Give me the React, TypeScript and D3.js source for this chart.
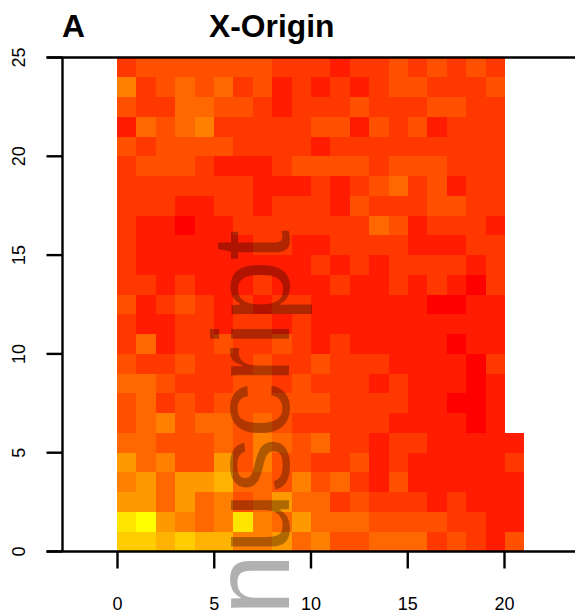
import React from 'react';
import * as d3 from 'd3';

const xTicks = [0, 5, 10, 15, 20];
const yTicks = [0, 5, 10, 15, 20, 25];

// heat.colors style ramp, indexed by the cell level below
const heatLevels = ['#ff0000', '#ff1c00', '#ff3800', '#ff5000', '#ff6800', '#ff8000', '#ff9900', '#ffb300', '#ffcc00', '#ffe500', '#ffff00'];

// rows from y=0 upwards, one level per x bin
const row00 = [8, 8, 7, 8, 7, 7, 5, 5, 6, 4, 5, 3, 3, 4, 4, 4, 2, 3, 2, 1, 3];
const row01 = [9, 10, 6, 5, 4, 5, 9, 5, 4, 6, 4, 4, 4, 3, 3, 3, 3, 2, 2, 1, 1];
const row02 = [6, 6, 4, 6, 4, 5, 3, 4, 6, 4, 4, 2, 3, 2, 2, 2, 1, 2, 1, 1, 1];
const row03 = [5, 6, 4, 6, 6, 7, 4, 4, 3, 5, 3, 4, 2, 1, 3, 1, 1, 1, 1, 1, 1];
const row04 = [6, 4, 5, 3, 3, 6, 3, 5, 3, 3, 2, 2, 3, 1, 2, 1, 1, 1, 1, 1, 2];
const row05 = [4, 4, 3, 3, 3, 4, 3, 5, 4, 3, 4, 2, 2, 1, 2, 2, 1, 1, 1, 1, 1];
const row06 = [3, 4, 5, 3, 4, 4, 3, 4, 3, 2, 2, 2, 2, 2, 1, 1, 1, 1, 0, 1];
const row07 = [3, 4, 2, 3, 2, 3, 3, 3, 3, 3, 3, 2, 2, 2, 2, 1, 1, 0, 0, 1];
const row08 = [4, 4, 3, 2, 2, 2, 3, 3, 2, 3, 2, 2, 2, 1, 2, 1, 1, 1, 0, 1];
const row09 = [3, 2, 2, 3, 2, 2, 2, 3, 2, 2, 3, 2, 2, 2, 1, 1, 1, 1, 0, 2];
const row10 = [2, 4, 1, 2, 2, 3, 2, 2, 3, 2, 1, 2, 1, 1, 1, 1, 1, 0, 1, 1];
const row11 = [2, 1, 1, 2, 2, 1, 2, 2, 1, 2, 1, 1, 1, 1, 1, 1, 1, 1, 1, 1];
const row12 = [3, 1, 2, 3, 2, 1, 2, 1, 2, 2, 1, 1, 1, 1, 1, 1, 0, 0, 1, 1];
const row13 = [2, 2, 1, 2, 1, 1, 1, 2, 1, 1, 1, 2, 1, 1, 2, 1, 2, 1, 0, 2];
const row14 = [2, 1, 1, 1, 1, 1, 1, 1, 1, 1, 2, 1, 2, 1, 2, 2, 2, 2, 1, 2];
const row15 = [2, 1, 1, 1, 1, 1, 1, 2, 2, 1, 1, 2, 2, 2, 2, 1, 1, 1, 2, 2];
const row16 = [2, 1, 1, 0, 1, 1, 2, 2, 2, 2, 2, 2, 2, 4, 3, 1, 2, 2, 2, 1];
const row17 = [2, 2, 2, 1, 1, 2, 2, 1, 2, 2, 2, 1, 3, 2, 2, 2, 3, 3, 2, 2];
const row18 = [2, 2, 2, 2, 2, 2, 2, 1, 1, 1, 2, 1, 2, 3, 4, 2, 3, 1, 2, 2];
const row19 = [2, 3, 3, 3, 2, 1, 1, 1, 2, 3, 3, 3, 3, 2, 3, 3, 3, 2, 2, 2];
const row20 = [3, 2, 3, 3, 3, 3, 2, 2, 2, 2, 1, 2, 2, 2, 2, 2, 2, 2, 2, 2];
const row21 = [1, 4, 3, 4, 5, 2, 2, 2, 2, 2, 3, 3, 1, 3, 2, 3, 1, 2, 2, 2];
const row22 = [3, 2, 2, 4, 4, 3, 3, 2, 1, 2, 2, 2, 3, 2, 2, 2, 3, 3, 2, 2];
const row23 = [5, 2, 3, 4, 3, 4, 2, 3, 1, 2, 1, 2, 1, 2, 3, 3, 2, 2, 2, 3];
const row24 = [2, 3, 3, 3, 3, 3, 3, 3, 2, 2, 2, 1, 2, 2, 3, 2, 3, 2, 3, 2];

const rows = [row00, row01, row02, row03, row04, row05, row06, row07, row08, row09, row10, row11, row12,
  row13, row14, row15, row16, row17, row18, row19, row20, row21, row22, row23, row24];

const width = 575;
const height = 614;
const font = '"Liberation Sans", Arial, sans-serif';

const x = d3.scaleLinear().domain([0, 20]).range([117.5, 504.5]);
const cellX = d3.scaleLinear().domain([0, 20]).range([117, 505]);
const y = d3.scaleLinear().domain([0, 25]).range([551.5, 57.5]);
const color = d3.scaleQuantize<string>().domain([0, heatLevels.length]).range(heatLevels);

const axisLeft = 62.5;

export default function App() {
  return (
    <svg width={width} height={height} style={{ position: 'absolute', left: 0, top: 0, background: '#fff' }} fontFamily={font}>
      <text x={62} y={36.5} fontSize={31.8} fontWeight="bold">A</text>
      <text x={209} y={36.5} fontSize={31.8} fontWeight="bold">X-Origin</text>

      <g shapeRendering="crispEdges">
        {rows.map((row, r) =>
          row.map((level, c) => (
            <rect
              key={`${r}-${c}`}
              x={cellX(c)}
              y={y(r + 1)}
              width={cellX(c + 1) - cellX(c)}
              height={y(r) - y(r + 1)}
              fill={color(level + 0.5)}
            />
          ))
        )}
      </g>

      {/* box: only left, top and bottom are inside the frame */}
      <g stroke="#000" strokeWidth={2.4} fill="none">
        <line x1={axisLeft} x2={axisLeft} y1={y(25)} y2={y(0)} />
        <line x1={axisLeft - 16} x2={width} y1={y(0)} y2={y(0)} />
        <line x1={axisLeft - 16} x2={width} y1={y(25)} y2={y(25)} />
        {xTicks.map(t => (
          <line key={t} x1={x(t)} x2={x(t)} y1={y(0)} y2={y(0) + 17} />
        ))}
        {yTicks.map(t => (
          <line key={t} x1={axisLeft - 16} x2={axisLeft} y1={y(t)} y2={y(t)} />
        ))}
      </g>

      <g fontSize={18} fill="#000" textAnchor="middle">
        {xTicks.map(t => (
          <text key={t} x={x(t)} y={610}>{t}</text>
        ))}
        {yTicks.map(t => (
          <text key={t} transform={`translate(25, ${y(t)}) rotate(-90)`}>{t}</text>
        ))}
      </g>

      <text
        transform="translate(288.5, 615) rotate(-90)"
        fontSize={110}
        fill="#000"
        fillOpacity={0.31}
      >
        nuscript
      </text>
    </svg>
  );
}
